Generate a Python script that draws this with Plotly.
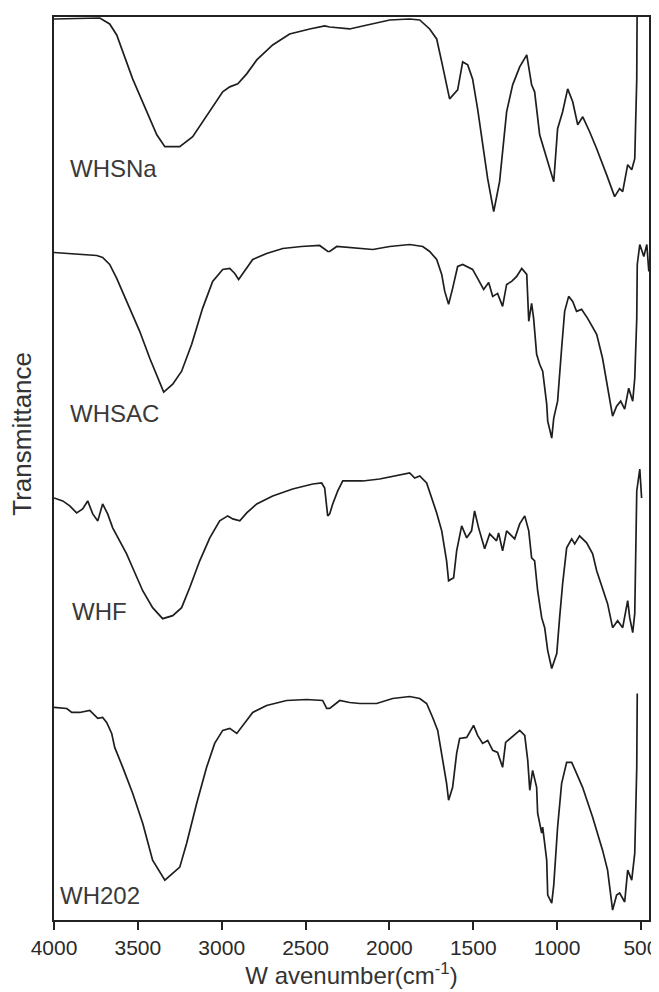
import plotly.graph_objects as go

# ---- data (wavenumber, cm-1) and stacked transmittance (arbitrary, offset) ----
wn_whsna = [4000, 3727, 3668, 3626, 3531, 3447, 3387, 3339, 3250, 3173, 3071, 2994, 2952, 2904, 2851,
            2791, 2696, 2595, 2475, 2386, 2356, 2237, 2159, 1998, 1879, 1819, 1760, 1718, 1688, 1641,
            1593, 1563, 1533, 1504, 1474, 1444, 1414, 1378, 1343, 1301, 1265, 1223, 1181, 1152, 1134,
            1104, 1074, 1044, 1020, 997, 967, 937, 907, 877, 847, 806, 764, 705, 657, 627,
            609, 579, 555, 537, 525, 522, 500, 452]
t_whsna = [903, 904, 898, 887, 843, 810, 787, 775, 775, 785, 810, 830, 835, 838, 848,
           862, 877, 888, 893, 896, 895, 893, 896, 902, 903, 902, 893, 883, 860, 823,
           832, 860, 857, 843, 813, 780, 743, 710, 740, 810, 837, 855, 867, 837, 830,
           787, 770, 753, 740, 793, 810, 833, 820, 797, 805, 790, 773, 747, 725, 733,
           730, 757, 752, 763, 843, 940, 960, 960]

wn_whsac = [4000, 3924, 3805, 3745, 3710, 3668, 3626, 3567, 3489, 3429, 3382, 3346, 3292, 3239, 3179,
            3114, 3054, 2994, 2952, 2922, 2899, 2875, 2815, 2732, 2636, 2525, 2416, 2367, 2356, 2314,
            2176, 2099, 1998, 1879, 1801, 1760, 1718, 1688, 1670, 1647, 1623, 1593, 1563, 1504, 1474,
            1438, 1408, 1384, 1355, 1325, 1301, 1271, 1241, 1211, 1181, 1169, 1152, 1140, 1122, 1104,
            1086, 1062, 1056, 1032, 1020, 997, 973, 955, 931, 907, 884, 854, 818, 764, 729,
            699, 669, 645, 621, 597, 573, 549, 537, 525, 522, 507, 483, 465, 453]
t_whsac = [669, 668, 667, 666, 664, 657, 643, 620, 590, 563, 543, 529, 537, 550, 577,
           613, 640, 652, 653, 648, 642, 648, 662, 668, 673, 675, 676, 670, 670, 675,
           673, 672, 675, 677, 675, 670, 662, 647, 630, 617, 633, 655, 657, 652, 643,
           632, 639, 625, 628, 615, 637, 640, 645, 653, 647, 600, 618, 603, 567, 557,
           550, 517, 500, 483, 503, 520, 573, 610, 625, 620, 610, 612, 603, 587, 563,
           533, 505, 515, 520, 512, 533, 520, 543, 603, 657, 677, 665, 677, 650]

wn_whf = [4000, 3948, 3906, 3865, 3829, 3799, 3769, 3739, 3710, 3680, 3650, 3608, 3567, 3531, 3471,
          3412, 3352, 3292, 3239, 3191, 3131, 3071, 3012, 2964, 2934, 2892, 2851, 2791, 2696, 2577,
          2457, 2404, 2386, 2368, 2356, 2338, 2308, 2278, 2159, 2058, 1957, 1879, 1849, 1819, 1778,
          1748, 1718, 1688, 1659, 1647, 1617, 1599, 1569, 1539, 1510, 1492, 1468, 1432, 1402, 1361,
          1349, 1325, 1301, 1253, 1223, 1193, 1169, 1152, 1134, 1116, 1092, 1074, 1056, 1032, 1002,
          985, 967, 943, 913, 895, 866, 824, 788, 764, 729, 699, 669, 639, 609, 579,
          567, 549, 537, 531, 525, 507, 496]
t_whf = [423, 420, 415, 408, 412, 420, 407, 400, 417, 407, 393, 380, 367, 353, 330,
         313, 302, 305, 313, 333, 360, 383, 400, 405, 402, 400, 408, 417, 425, 432,
         437, 438, 433, 405, 407, 417, 430, 440, 440, 442, 445, 448, 443, 445, 438,
         423, 408, 390, 360, 340, 343, 370, 395, 383, 390, 410, 393, 372, 387, 380,
         388, 370, 390, 382, 397, 405, 390, 363, 360, 330, 303, 293, 270, 252, 267,
         303, 337, 373, 382, 377, 385, 378, 367, 350, 333, 317, 293, 300, 293, 320,
         303, 288, 307, 387, 430, 452, 423]

wn_wh202 = [4000, 3924, 3894, 3847, 3787, 3757, 3739, 3710, 3686, 3656, 3638, 3590, 3531, 3471, 3412,
            3339, 3292, 3250, 3209, 3149, 3090, 3042, 2994, 2952, 2910, 2875, 2815, 2732, 2613, 2494,
            2398, 2374, 2356, 2296, 2237, 2177, 2076, 1981, 1879, 1819, 1778, 1742, 1712, 1682, 1659,
            1647, 1623, 1599, 1581, 1539, 1498, 1474, 1444, 1414, 1384, 1355, 1325, 1307, 1271, 1223,
            1193, 1175, 1163, 1146, 1122, 1116, 1092, 1086, 1062, 1056, 1032, 1020, 997, 973, 943,
            913, 884, 848, 788, 729, 699, 669, 645, 627, 597, 579, 555, 537, 525, 522]
t_wh202 = [213, 212, 208, 208, 210, 205, 202, 203, 198, 187, 173, 153, 127, 97, 60,
           40, 47, 53, 77, 117, 153, 177, 190, 192, 187, 195, 208, 215, 220, 221,
           220, 212, 212, 220, 218, 217, 217, 222, 224, 222, 217, 203, 190, 160, 137,
           120, 133, 167, 182, 183, 195, 185, 177, 180, 170, 168, 153, 178, 183, 190,
           185, 160, 130, 150, 133, 107, 87, 93, 60, 25, 17, 35, 93, 137, 158,
           158, 147, 133, 103, 70, 50, 10, 25, 27, 18, 50, 40, 67, 153, 227]

series_names = ["WHSNa", "WHSAC", "WHF", "WH202"]
label_pos = [(3918, 753), (3918, 508), (3906, 309), (3978, 25)]
tick_vals = [4000, 3500, 3000, 2500, 2000, 1500, 1000, 500]
tick_text = ["4000", "3500", "3000", "2500", "2000", "1500", "1000", "500"]

FONT = "Liberation Sans, Arial, sans-serif"
LINE = "#1e1e1e"

fig = go.Figure()
for wn, t in [(wn_whsna, t_whsna), (wn_whsac, t_whsac), (wn_whf, t_whf), (wn_wh202, t_wh202)]:
    fig.add_trace(go.Scatter(x=wn, y=t, mode="lines",
                             line=dict(color=LINE, width=1.7), showlegend=False,
                             hoverinfo="skip"))

for name, (lx, ly) in zip(series_names, label_pos):
    fig.add_annotation(x=lx, y=ly, xref="x", yref="y", text=name, showarrow=False,
                       xanchor="left", yanchor="middle",
                       font=dict(family=FONT, size=24, color="#3a3a3a"))

# y-axis title placed as a rotated annotation (sits a bit above the plot centre)
fig.add_annotation(x=-0.053, y=0.539, xref="paper", yref="paper", text="Transmittance",
                   showarrow=False, textangle=-90, xanchor="center", yanchor="middle",
                   font=dict(family=FONT, size=26, color="#333"))

# the page body adds an 8px offset; margins compensate so the frame sits at x 54-649, y 15-920
fig.update_layout(
    width=659, height=992,
    margin=dict(l=46, r=18, t=7, b=80),
    paper_bgcolor="white", plot_bgcolor="white",
    font=dict(family=FONT, color="#333333"),
)
fig.update_xaxes(
    range=[4000, 452], tickvals=tick_vals, ticktext=tick_text,
    ticks="outside", ticklen=8, tickwidth=1.5, tickcolor="#222",
    showline=True, linecolor="#222", linewidth=1.8, mirror=True,
    showgrid=False, zeroline=False,
    tickfont=dict(family=FONT, size=21, color="#2a2a2a"),
    title=dict(text="W avenumber(cm<sup>-1</sup>)", font=dict(family=FONT, size=24, color="#333"),
               standoff=0),
)
fig.update_yaxes(
    range=[0, 905], showticklabels=False, ticks="",
    showline=True, linecolor="#222", linewidth=1.8, mirror=True,
    showgrid=False, zeroline=False,
)

fig.write_html("out.html")
